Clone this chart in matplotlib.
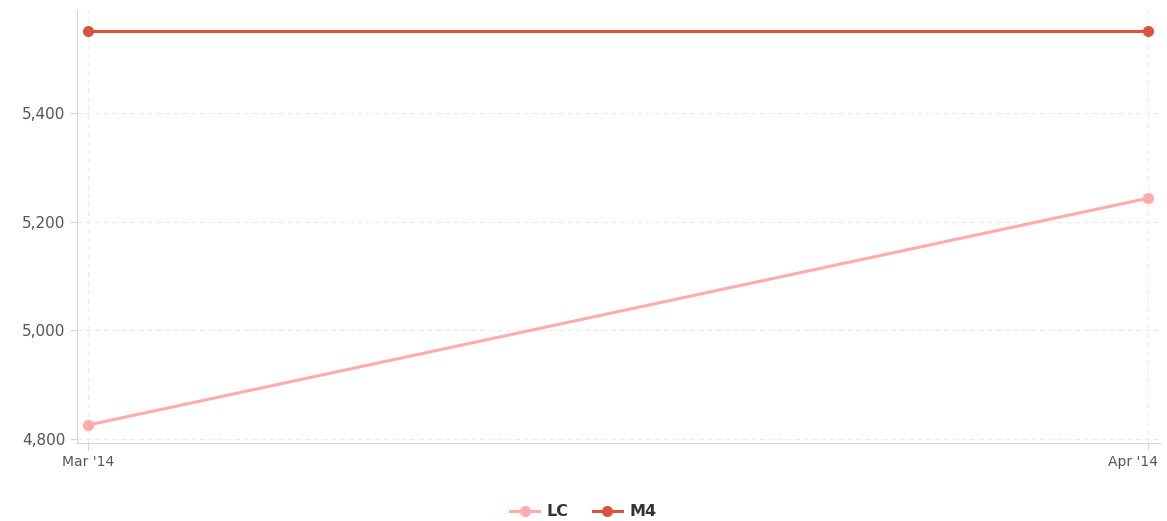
import matplotlib.pyplot as plt
from matplotlib.ticker import FuncFormatter
from matplotlib.transforms import ScaledTranslation

months = ["Mar '14", "Apr '14"]
lc = [4826, 5243]
m4 = [5551, 5551]
yticks = [4800, 5000, 5200, 5400]

fig = plt.figure(figsize=(11.67, 5.21), dpi=100)
ax = fig.add_axes([77 / 1167, 78 / 521, 1083 / 1167, 433 / 521])

x = list(range(len(months)))
ax.plot(x, lc, color='#ffabab', lw=2.2, marker='o', ms=7, label='LC', zorder=3)
ax.plot(x, m4, color='#d9553a', lw=2.2, marker='o', ms=7, label='M4', zorder=3)

ax.set_xlim(-0.0104, 1.0113)
ax.set_ylim(4793, 5589)
ax.set_xticks(x)
ax.set_xticklabels(months)
ax.set_yticks(yticks)
ax.yaxis.set_major_formatter(FuncFormatter(lambda v, p: f'{v:,.0f}'))

ax.grid(True, color='#ececec', ls=(0, (4, 3)), lw=0.9)
ax.set_axisbelow(True)
for s in ['top', 'right']:
    ax.spines[s].set_visible(False)
for s in ['left', 'bottom']:
    ax.spines[s].set_color('#ccd6eb')
ax.tick_params(axis='both', colors='#ccd6eb', labelcolor='#555555', length=5)
ax.tick_params(axis='y', labelsize=11)
ax.tick_params(axis='x', labelsize=10)

# keep the last x label inside the figure
last = ax.get_xticklabels()[-1]
last.set_ha('right')
last.set_transform(last.get_transform() + ScaledTranslation(10 / 100, 0, fig.dpi_scale_trans))

leg = fig.legend(*ax.get_legend_handles_labels(), loc='center',
                 bbox_to_anchor=(0.5, 9 / 521), ncol=2,
                 frameon=False, prop={'weight': 'bold', 'size': 11.5},
                 handlelength=1.8, columnspacing=1.5, handletextpad=0.5)
for t in leg.get_texts():
    t.set_color('#333333')

fig.savefig('out.png')
